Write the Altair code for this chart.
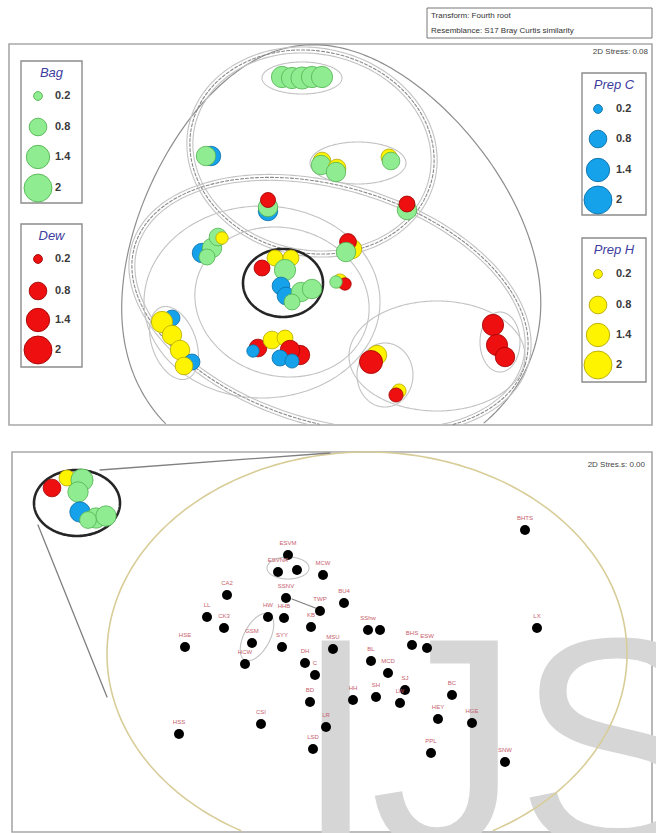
import altair as alt
import numpy as np
import pandas as pd

W, H = 656, 833

# ---------------- colours ----------------
FILL = {"g": "#90EC90", "b": "#16A2EA", "r": "#EE1010", "y": "#FFF400"}
EDGE = {"g": "#52B352", "b": "#0B6FA6", "r": "#A00000", "y": "#B5A800"}

# ---------------- header / panel texts ----------------
header_lines = ["Transform: Fourth root", "Resemblance: S17 Bray Curtis similarity"]
stress_top = "2D Stress: 0.08"
stress_bottom = "2D Stres.s: 0.00"

# ---------------- watermark ----------------
wm_letters = ["I", "J", "S"]
wm_x = [294, 370, 516]

# ---------------- legends ----------------
legend_titles = ["Bag", "Dew", "Prep C", "Prep H"]
legend_colors = ["g", "r", "b", "y"]
legend_values = [0.2, 0.8, 1.4, 2]
legend_box_x = [21, 21, 582, 582]
legend_box_x2 = [82, 82, 646, 646]
legend_box_y = [61, 224, 73, 238]
legend_box_y2 = [203, 367, 215, 382]
legend_title_y = [73, 236, 85, 250]
legend_circle_x = [38, 38, 598, 598]
legend_rows_y = [[96, 127, 157, 188], [259, 291, 320, 350],
                 [109, 139, 170, 200], [274, 305, 335, 365]]
legend_label_x = [55, 55, 616, 616]

# ---------------- bubbles (upper nMDS) : x, y, diameter, colour -------------
bub_x = [282, 292, 302, 312, 322,
         211, 206,
         322, 321, 337, 336, 389, 391,
         268, 268, 268,
         407, 407,
         202, 212, 218, 222, 207,
         262, 275, 291, 285, 281, 286, 301, 312, 292,
         172, 162, 172, 180, 192, 184,
         300, 258, 253, 272, 285, 290, 280, 292,
         352, 348, 346,
         340, 345, 336,
         377, 371,
         399, 396,
         493, 497, 505,
         # copy inside the magnifier of the lower panel
         52, 67, 82, 78, 80, 96, 106, 88]
bub_y = [77, 78, 78, 77, 77,
         156, 156,
         161, 165, 168, 172, 157, 161,
         211, 207, 200,
         210, 204,
         253, 248, 237, 238, 257,
         268, 258, 258, 270, 286, 296, 292, 289, 302,
         318, 322, 335, 350, 362, 366,
         355, 348, 351, 340, 338, 350, 358, 361,
         249, 242, 252,
         281, 284, 282,
         355, 362,
         391, 395,
         325, 345, 357,
         488, 478, 480, 492, 512, 518, 516, 520]
bub_d = [24, 24, 25, 24, 24,
         22, 22,
         20, 22, 20, 22, 18, 20,
         22, 22, 17,
         22, 18,
         22, 22, 20, 14, 18,
         18, 18, 18, 24, 20, 20, 22, 22, 18,
         18, 24, 22, 22, 18, 20,
         22, 20, 14, 20, 18, 22, 18, 16,
         22, 19, 22,
         16, 14, 14,
         22, 26,
         16, 16,
         24, 24, 22,
         20, 18, 25, 23, 23, 23, 23, 19]
bub_c = ["g", "g", "g", "g", "g",
         "b", "g",
         "y", "g", "y", "g", "y", "g",
         "b", "g", "r",
         "g", "r",
         "b", "g", "g", "y", "g",
         "r", "y", "y", "g", "b", "b", "g", "g", "g",
         "b", "y", "y", "y", "b", "y",
         "r", "r", "b", "y", "y", "r", "b", "b",
         "y", "r", "g",
         "y", "r", "g",
         "y", "r",
         "y", "r",
         "r", "r", "r",
         "r", "y", "g", "g", "b", "g", "g", "g"]

# ---------------- black dots (lower nMDS) ----------------
dot_name = ["ESVM", "ESVNR", "ESVW", "MCW", "CA2", "SSNV", "BU4", "TWP", "LL", "CK3",
            "HW", "HHB", "KB", "SShw", "SSkw", "HSE", "GSM", "SYY", "MSU", "BHS", "ESW",
            "HCW", "DH", "C", "BL", "MCD", "SJ", "BD", "HH", "SH", "LW", "BC", "CSI",
            "LR", "HEY", "HGE", "HSS", "LSD", "PPL", "SNW", "BHTS", "LX"]
dot_x = [288, 278, 297, 323, 227, 286, 344, 320, 207, 224,
         268, 284, 311, 368, 380, 185, 252, 282, 333, 412, 427,
         245, 305, 315, 371, 388, 405, 310, 353, 376, 400, 452, 261,
         326, 438, 472, 179, 313, 431, 505, 525, 537]
dot_y = [555, 572, 570, 575, 595, 598, 603, 611, 617, 628,
         617, 618, 627, 630, 630, 647, 643, 647, 649, 645, 648,
         664, 663, 675, 661, 673, 690, 702, 700, 697, 703, 695, 724,
         727, 719, 723, 734, 749, 753, 762, 530, 628]
lab_show = [1, 1, 0, 1, 1, 1, 1, 1, 1, 1,
            1, 1, 1, 1, 0, 1, 1, 1, 1, 1, 1,
            1, 1, 1, 1, 1, 1, 1, 1, 1, 1, 1, 1,
            1, 1, 1, 1, 1, 1, 1, 1, 1]

# ---------------- outline shapes: name, style, cx, cy, rx, ry, rot, egg, ry_bottom ----
shp_name = ["outer", "topA", "topB", "topC", "lowA", "lowB", "lowC",
            "leftA", "leftB", "chain", "circ", "rightA", "redpair", "redtrio",
            "gy", "topcl",
            "tan", "mag", "gsm", "esv"]
shp_style = ["mid", "dash", "light", "light", "dash", "light", "light",
             "light", "light", "light", "black", "light", "light", "light",
             "light", "light",
             "tan", "black", "light", "light"]
shp_cx = [326, 312, 312, 312, 330, 330, 330,
          262, 282, 174, 283, 437, 385, 500,
          358, 302,
          367, 77, 257, 288]
shp_cy = [264, 152, 152, 152, 305, 305, 305,
          302, 302, 343, 283, 356, 375, 342,
          163, 78,
          654, 503, 637, 568]
shp_rx = [205, 123, 126, 120, 204, 207, 201,
          118, 88, 22, 40, 88, 28, 20,
          48, 40,
          260, 43, 13, 21]
shp_ry = [220, 101, 104, 98, 118, 121, 115,
          96, 74, 38, 34, 55, 32, 30,
          21, 16,
          202, 33, 26, 11]
shp_rot = [-7, 12, 12, 12, 17, 17, 17,
           0, 15, -20, 0, 0, 0, 0,
           0, 0,
           0, 0, 28, 0]
shp_egg = [0.22, 0, 0, 0, 0, 0, 0,
           0, 0, 0, 0, 0, 0, 0,
           0, 0,
           0, 0, 0, 0]
shp_ryb = [215, 101, 104, 98, 118, 121, 115,
           96, 74, 38, 34, 55, 32, 30,
           21, 16,
           202, 33, 26, 11]
shp_panel = [0, 0, 0, 0, 0, 0, 0,
             0, 0, 0, 0, 0, 0, 0,
             0, 0,
             1, 1, 1, 1]

# straight connectors (magnifier lines, small link)
conn_x = [100, 330, 38, 107, 292, 318]
conn_y = [470, 453, 525, 697, 599, 609]
conn_id = ["m1", "m1", "m2", "m2", "k", "k"]

panel_x = [9, 12]
panel_x2 = [652, 652]
panel_y = [44, 452]
panel_y2 = [425, 832]

# ======================================================================
xs = alt.Scale(domain=[0, W], range=[0, W], nice=False, zero=False)
ys = alt.Scale(domain=[H, 0], nice=False, zero=False)
X = lambda f: alt.X(f, type="quantitative", scale=xs, axis=None)
Y = lambda f: alt.Y(f, type="quantitative", scale=ys, axis=None)
X2 = lambda f: alt.X2(f)
Y2 = lambda f: alt.Y2(f)


def outline(cx, cy, rx, ry, rot, k, ryb, n=260):
    t = np.linspace(0, 2 * np.pi, n + 1)
    s, c = np.sin(t), np.cos(t)
    lx = rx * c * (1 - k * s)
    ly = np.where(s >= 0, -ry * s, -ryb * s)
    th = np.radians(rot)
    return (cx + lx * np.cos(th) - ly * np.sin(th),
            cy + lx * np.sin(th) + ly * np.cos(th))


rows = []
for i, nm in enumerate(shp_name):
    px, py = outline(shp_cx[i], shp_cy[i], shp_rx[i], shp_ry[i],
                     shp_rot[i], shp_egg[i], shp_ryb[i])
    p = shp_panel[i]
    inside = ((px >= panel_x[p]) & (px <= panel_x2[p]) &
              (py >= panel_y[p]) & (py <= panel_y2[p]))
    seg, prev = 0, False
    for j in range(len(px)):
        if inside[j]:
            if not prev:
                seg += 1
            rows.append({"sid": f"{nm}_{seg}", "style": shp_style[i],
                         "i": j, "x": px[j], "y": py[j]})
        prev = inside[j]
for j, cid in enumerate(conn_id):
    rows.append({"sid": cid, "style": "conn", "i": j, "x": conn_x[j], "y": conn_y[j]})
shapes = pd.DataFrame(rows)

style_props = {
    "mid": dict(stroke="#8e8e8e", strokeWidth=1.2),
    "dash": dict(stroke="#8a8a8a", strokeWidth=1.1, strokeDash=[3, 2]),
    "light": dict(stroke="#c2c2c2", strokeWidth=1.1),
    "black": dict(stroke="#262626", strokeWidth=2.6),
    "tan": dict(stroke="#D8CD98", strokeWidth=1.6),
    "conn": dict(stroke="#808080", strokeWidth=1.3),
}

layers = []

# panel frames
panels = pd.DataFrame({"x": panel_x, "x2": panel_x2, "y": panel_y, "y2": panel_y2})
layers.append(alt.Chart(panels).mark_rect(fill="white", stroke="#a8a8a8", strokeWidth=1.6)
              .encode(x=X("x"), x2=X2("x2"), y=Y("y"), y2=Y2("y2")))

# watermark
wm = pd.DataFrame({"t": wm_letters, "x": wm_x, "y": [847, 847, 847]})
layers.append(alt.Chart(wm).mark_text(font="Liberation Sans", fontSize=300, color="#D6D6D6",
                                      align="left", baseline="alphabetic")
              .encode(x=X("x"), y=Y("y"), text="t:N"))

# outlines
for st, props in style_props.items():
    d = shapes[shapes["style"] == st]
    if len(d) == 0:
        continue
    layers.append(alt.Chart(d).mark_line(strokeCap="round", **props)
                  .encode(x=X("x"), y=Y("y"), detail="sid:N", order=alt.Order("i:Q")))

# bubbles
bub = pd.DataFrame({"x": bub_x, "y": bub_y, "d": bub_d, "c": bub_c})
bub["i"] = range(len(bub))
bub["fill"] = bub["c"].map(FILL)
bub["edge"] = bub["c"].map(EDGE)
layers.append(alt.Chart(bub).transform_calculate(area="PI*datum.d*datum.d/4")
              .mark_circle(opacity=1, strokeWidth=0.8)
              .encode(x=X("x"), y=Y("y"),
                      size=alt.Size("area:Q", scale=None),
                      fill=alt.Fill("fill:N", scale=None),
                      stroke=alt.Stroke("edge:N", scale=None),
                      order=alt.Order("i:Q")))

# black dots + labels
dots = pd.DataFrame({"name": dot_name, "x": dot_x, "y": dot_y, "show": lab_show})
dots["ly"] = dots["y"] - 12
layers.append(alt.Chart(dots).mark_point(shape="circle", filled=True, color="black",
                                         opacity=1, size=100)
              .encode(x=X("x"), y=Y("y")))
layers.append(alt.Chart(dots[dots["show"] == 1]).mark_text(fontSize=6, color="#C8606C",
                                                           font="Liberation Sans")
              .encode(x=X("x"), y=Y("ly"), text="name:N"))

# legends
lb = pd.DataFrame({"x": legend_box_x, "x2": legend_box_x2, "y": legend_box_y,
                   "y2": legend_box_y2})
layers.append(alt.Chart(lb).mark_rect(fill="white", stroke="#8c8c8c", strokeWidth=1.4)
              .encode(x=X("x"), x2=X2("x2"), y=Y("y"), y2=Y2("y2")))
lt = pd.DataFrame({"t": legend_titles,
                   "x": [(a + b) / 2 for a, b in zip(legend_box_x, legend_box_x2)],
                   "y": legend_title_y})
layers.append(alt.Chart(lt).mark_text(fontSize=13, fontStyle="italic", color="#3d3d9e",
                                      font="Liberation Sans")
              .encode(x=X("x"), y=Y("y"), text="t:N"))
lrows = []
for k in range(4):
    for v, yy in zip(legend_values, legend_rows_y[k]):
        lrows.append({"v": v, "lab": f"{v:g}", "cx": legend_circle_x[k], "y": yy,
                      "lx": legend_label_x[k], "fill": FILL[legend_colors[k]],
                      "edge": EDGE[legend_colors[k]]})
lr = pd.DataFrame(lrows)
layers.append(alt.Chart(lr).mark_circle(opacity=1, strokeWidth=0.9)
              .encode(x=X("cx"), y=Y("y"),
                      size=alt.Size("v:Q", scale=alt.Scale(domain=[0, 2], range=[0, 780]),
                                    legend=None),
                      fill=alt.Fill("fill:N", scale=None),
                      stroke=alt.Stroke("edge:N", scale=None)))
layers.append(alt.Chart(lr).mark_text(fontSize=11, color="#3a3a3a", align="left",
                                      font="Liberation Sans", fontWeight="bold")
              .encode(x=X("lx"), y=Y("y"), text="lab:N"))

# header box + stress texts
hb = pd.DataFrame({"x": [427], "x2": [652], "y": [8], "y2": [38]})
layers.append(alt.Chart(hb).mark_rect(fill="white", stroke="#777", strokeWidth=1)
              .encode(x=X("x"), x2=X2("x2"), y=Y("y"), y2=Y2("y2")))
ht = pd.DataFrame({"t": header_lines, "x": [431, 431], "y": [16, 31]})
layers.append(alt.Chart(ht).mark_text(fontSize=8, color="#333", align="left",
                                      font="Liberation Sans")
              .encode(x=X("x"), y=Y("y"), text="t:N"))
stt = pd.DataFrame({"t": [stress_top, stress_bottom], "x": [648, 645], "y": [52, 465]})
layers.append(alt.Chart(stt).mark_text(fontSize=8, color="#444", align="right",
                                       font="Liberation Sans")
              .encode(x=X("x"), y=Y("y"), text="t:N"))

chart = (alt.layer(*layers)
         .properties(width=W, height=H, padding=0, autosize=alt.AutoSizeParams(type="none"),
                     background="white")
         .configure_view(stroke=None))

chart.save("out.html", embed_options={"renderer": "svg", "actions": False})
